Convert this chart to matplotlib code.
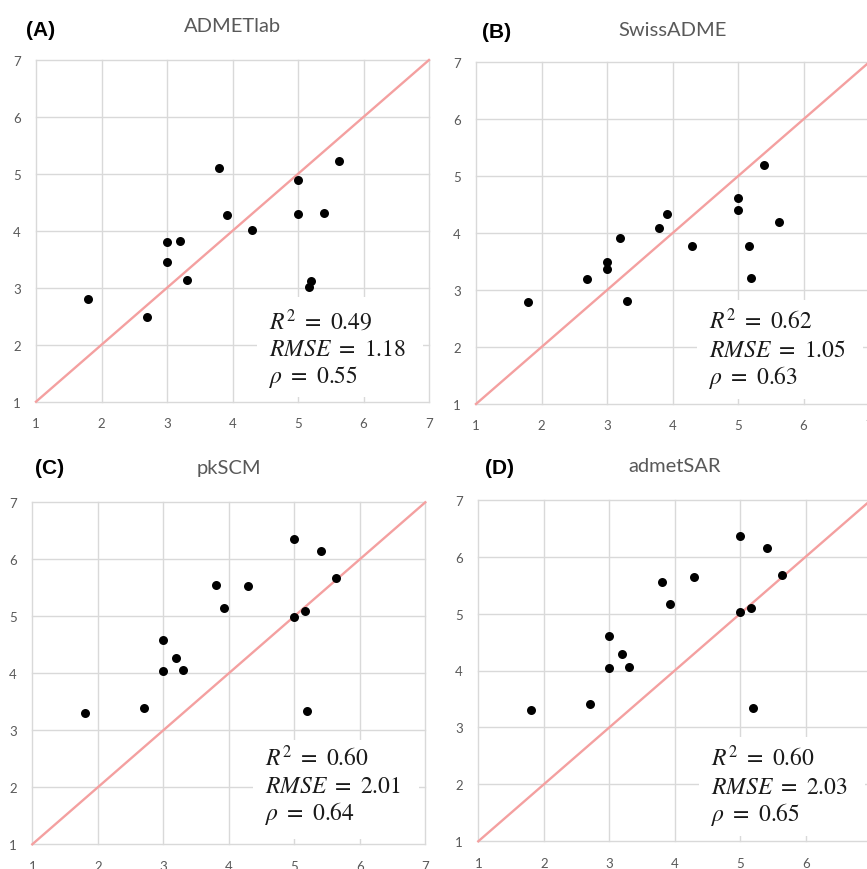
import matplotlib
matplotlib.use("Agg")
import matplotlib.pyplot as plt
from matplotlib.patches import Rectangle

# ---------------- data ----------------
experimental = [1.80, 2.70, 3.00, 3.00, 3.20, 3.30, 3.80, 3.92, 4.30, 5.00, 5.00, 5.40, 5.63, 5.17, 5.20]
admetlab   = [2.80, 2.49, 3.81, 3.46, 3.82, 3.14, 5.11, 4.27, 4.02, 4.90, 4.29, 4.32, 5.23, 3.01, 3.12]
swissadme  = [2.79, 3.20, 3.50, 3.37, 3.92, 2.80, 4.09, 4.33, 3.78, 4.62, 4.40, 5.19, 4.19, 3.78, 3.21]
pkscm      = [3.30, 3.40, 4.59, 4.04, 4.27, 4.06, 5.55, 5.15, 5.54, 6.35, 4.99, 6.14, 5.67, 5.10, 3.33]
admetsar   = [3.31, 3.41, 4.60, 4.05, 4.29, 4.07, 5.56, 5.17, 5.65, 6.37, 5.02, 6.15, 5.68, 5.10, 3.34]

panel_letters = ["(A)", "(B)", "(C)", "(D)"]
tool_names = ["ADMETlab", "SwissADME", "pkSCM", "admetSAR"]
r2_values = ["0.49", "0.62", "0.60", "0.60"]
rmse_values = ["1.18", "1.05", "2.01", "2.03"]
rho_values = ["0.55", "0.63", "0.64", "0.65"]
ticks = [1, 2, 3, 4, 5, 6, 7]
predicted = [admetlab, swissadme, pkscm, admetsar]

# ---------------- layout ----------------
W, H = 867, 870
plt.rcParams['mathtext.fontset'] = 'stix'
fig = plt.figure(figsize=(W / 100, H / 100), dpi=100)

# axes pixel boxes: (x of value 1, x per unit, y top(7), y bottom(1))
boxes = [(36, 65.5, 61.0, 402.7),
         (476, 65.5, 63.3, 405.0),
         (32.3, 65.5, 503.3, 845.3),
         (478.3, 65.5, 500.7, 842.3)]
label_pos = [(41, 30), (497, 32), (50, 469), (499, 469)]
title_px = [27, 30, 469, 467]
text_top = [2.43, 2.46, 2.53, 2.47]

grid_color = "#d9d9d9"
tick_color = "#595959"
text_color = "#1a1a1a"

for i in range(4):
    x0, ppu, yt, yb = boxes[i]
    left = x0 / W
    width = 6 * ppu / W
    bottom = 1 - yb / H
    height = (yb - yt) / H
    ax = fig.add_axes([left, bottom, width, height])
    ax.set_xlim(1, 7)
    ax.set_ylim(1, 7)
    ax.set_xticks(ticks)
    ax.set_yticks(ticks)
    ax.set_xticklabels([str(t) for t in ticks])
    ax.set_yticklabels([str(t) for t in ticks])
    for s in ax.spines.values():
        s.set_visible(False)
    ax.grid(True, color=grid_color, linewidth=1.0, zorder=0)
    ax.set_axisbelow(True)
    ax.tick_params(length=0, labelsize=9.5, labelcolor=tick_color, pad=11)
    for lab in ax.get_xticklabels() + ax.get_yticklabels():
        lab.set_fontfamily("Lato")
    for gl in ax.get_xgridlines() + ax.get_ygridlines():
        gl.set_clip_on(False)

    # identity line
    ax.plot([1, 7], [1, 7], color="#f4a0a0", linewidth=1.7, zorder=2, clip_on=False)
    # points
    ax.scatter(experimental, predicted[i], s=42, color="black", zorder=3, linewidths=0)

    # white box behind stats text
    ax.add_patch(Rectangle((4.37, 1.09), 2.54, 1.74, facecolor="white",
                           edgecolor="none", zorder=1.5))
    ty = text_top[i]
    step = 0.49
    ax.text(4.56, ty, rf"$R^2\ =\ {r2_values[i]}$", fontsize=17, va="center", ha="left",
            zorder=4, color=text_color)
    ax.text(4.56, ty - step, rf"$RMSE\ =\ {rmse_values[i]}$", fontsize=17, va="center",
            ha="left", zorder=4, color=text_color)
    ax.text(4.56, ty - 2 * step, rf"$\rho\ =\ {rho_values[i]}$", fontsize=17, va="center",
            ha="left", zorder=4, color=text_color)

    # title
    ty_ax = 1 + (yt - title_px[i]) / (yb - yt)
    ax.text(4, ty_ax, tool_names[i], transform=ax.get_xaxis_transform(),
            ha="center", va="center", fontsize=14.5, color=tick_color,
            fontfamily="Lato", clip_on=False)

    # panel letter
    lx, ly = label_pos[i]
    fig.text(lx / W, 1 - ly / H, panel_letters[i], ha="center", va="center",
             fontsize=15, fontweight="bold", fontfamily="Liberation Sans", color="black")

fig.savefig("out.png", dpi=100)
